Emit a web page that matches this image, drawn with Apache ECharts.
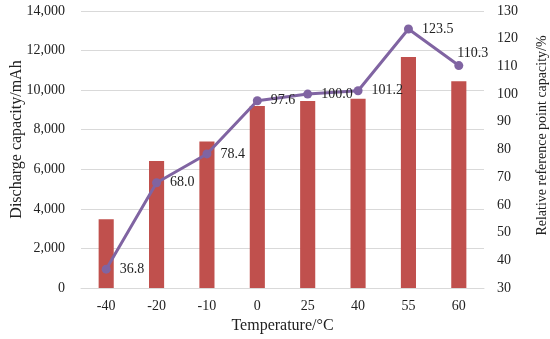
<!DOCTYPE html>
<html><head><meta charset="utf-8">
<script src="https://cdn.jsdelivr.net/npm/echarts@6/dist/echarts.min.js"></script>
<style>html,body{margin:0;padding:0;background:#fff}#c{width:550px;height:339px}</style>
</head><body><div id="c"></div>
<script>
const categories = ['-40','-20','-10','0','25','40','55','60'];
const dischargeCapacity = [3480, 6420, 7400, 9200, 9450, 9560, 11680, 10450];
const relativeCapacity = [36.8, 68.0, 78.4, 97.6, 100.0, 101.2, 123.5, 110.3];
const leftTicks = {min: 0, max: 14000, interval: 2000};
const rightTicks = {min: 30, max: 130, interval: 10};

const font = "'Liberation Serif','Times New Roman',serif";
const lineData = relativeCapacity.map((v, i) =>
  i === relativeCapacity.length - 1
    ? {value: v, label: {position: 'top', distance: 1, offset: [14, 0]}}
    : v);

const chart = echarts.init(document.getElementById('c'));
chart.setOption({
  animation: false,
  textStyle: {fontFamily: font},
  grid: {left: 81, right: 66, top: 11, bottom: 51, containLabel: false, outerBoundsMode: 'none'},
  xAxis: {
    type: 'category', data: categories,
    axisLine: {lineStyle: {color: '#d9d9d9', width: 1}},
    axisTick: {show: false},
    axisLabel: {color: '#222', fontSize: 14, fontFamily: font, margin: 11},
    name: 'Temperature/°C', nameLocation: 'middle', nameGap: 30, nameMoveOverlap: false,
    nameTextStyle: {color: '#222', fontSize: 16, fontFamily: font}
  },
  yAxis: [{
    type: 'value', min: leftTicks.min, max: leftTicks.max, interval: leftTicks.interval,
    axisLine: {show: false}, axisTick: {show: false},
    splitLine: {lineStyle: {color: '#d9d9d9'}},
    axisLabel: {color: '#222', fontSize: 14, fontFamily: font, margin: 16,
      formatter: v => v.toLocaleString('en-US')},
    name: 'Discharge capacity/mAh', nameLocation: 'middle', nameGap: 56, nameRotate: 90, nameMoveOverlap: false,
    nameTextStyle: {color: '#222', fontSize: 16, fontFamily: font, padding: [0, 0, 0, 20]}
  }, {
    type: 'value', min: rightTicks.min, max: rightTicks.max, interval: rightTicks.interval,
    axisLine: {show: false}, axisTick: {show: false}, splitLine: {show: false},
    axisLabel: {color: '#222', fontSize: 14, fontFamily: font, margin: 13},
    name: 'Relative reference point capacity/%', nameLocation: 'middle', nameGap: 51, nameRotate: 90, nameMoveOverlap: false,
    nameTextStyle: {color: '#222', fontSize: 14, fontFamily: font, padding: [0, 0, 0, 28]}
  }],
  series: [{
    type: 'bar', data: dischargeCapacity, yAxisIndex: 0,
    barWidth: '30%', itemStyle: {color: '#C0504D'}
  }, {
    type: 'line', data: lineData, yAxisIndex: 1,
    lineStyle: {color: '#8064A2', width: 3},
    itemStyle: {color: '#8064A2'},
    symbol: 'circle', symbolSize: 9,
    label: {show: true, position: 'right', distance: 9, color: '#222', fontSize: 14, fontFamily: font,
      formatter: p => p.value.toFixed(1)}
  }]
});
</script></body></html>
